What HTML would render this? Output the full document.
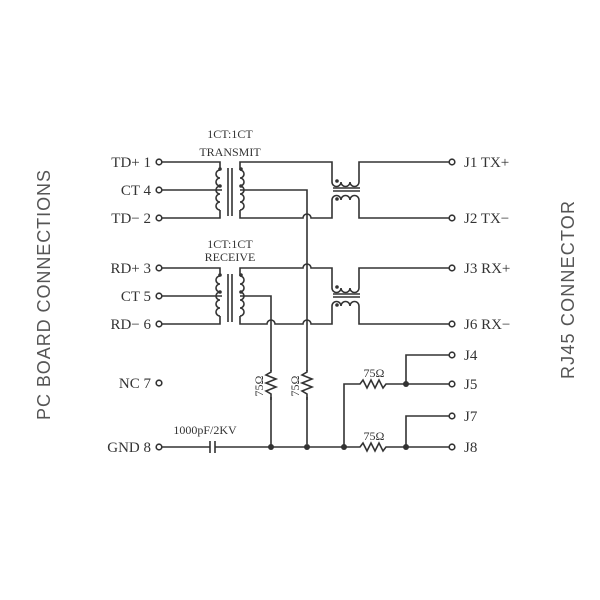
<!DOCTYPE html>
<html><head><style>
html,body{margin:0;padding:0;background:#fff}
svg{display:block}
text{font-family:"Liberation Serif",serif;fill:#333}
</style></head><body>
<svg width="600" height="600" viewBox="0 0 600 600" xmlns="http://www.w3.org/2000/svg">
<g stroke="#333" stroke-width="1.6" fill="none">
<g fill="#fff">
<circle cx="159" cy="162" r="2.8"/><circle cx="159" cy="190" r="2.8"/><circle cx="159" cy="218" r="2.8"/>
<circle cx="159" cy="268" r="2.8"/><circle cx="159" cy="296" r="2.8"/><circle cx="159" cy="324" r="2.8"/>
<circle cx="159" cy="383" r="2.8"/><circle cx="159" cy="447" r="2.8"/>
<circle cx="452" cy="162" r="2.8"/><circle cx="452" cy="218" r="2.8"/><circle cx="452" cy="268" r="2.8"/><circle cx="452" cy="324" r="2.8"/>
<circle cx="452" cy="355" r="2.8"/><circle cx="452" cy="384" r="2.8"/><circle cx="452" cy="416" r="2.8"/><circle cx="452" cy="447" r="2.8"/>
</g>
<path d="M162 162H220V170"/><path d="M162 190H222"/><path d="M162 218H220V210"/>
<path d="M220 170 a4 4 0 0 0 0 8 a4 4 0 0 0 0 8 a4 4 0 0 0 0 8 a4 4 0 0 0 0 8 a4 4 0 0 0 0 8"/>
<path d="M228 168V216M232 168V216"/>
<path d="M240 170 a4 4 0 0 1 0 8 a4 4 0 0 1 0 8 a4 4 0 0 1 0 8 a4 4 0 0 1 0 8 a4 4 0 0 1 0 8"/>
<path d="M240 170V162H332V182"/><path d="M240 210V218H303a4 4 0 0 1 8 0H332V200"/>
<path d="M240 190H307V444"/>
<path d="M332 182 a4.5 4.5 0 0 0 9 0 a4.5 4.5 0 0 0 9 0 a4.5 4.5 0 0 0 9 0"/>
<path d="M333 188H360M333 191H360"/>
<path d="M332 200 a4.5 4.5 0 0 1 9 0 a4.5 4.5 0 0 1 9 0 a4.5 4.5 0 0 1 9 0"/>
<path d="M359 182V162H449"/><path d="M359 200V218H449"/>
<path d="M162 268H220V276"/><path d="M162 296H222"/><path d="M162 324H220V316"/>
<path d="M220 276 a4 4 0 0 0 0 8 a4 4 0 0 0 0 8 a4 4 0 0 0 0 8 a4 4 0 0 0 0 8 a4 4 0 0 0 0 8"/>
<path d="M228 274V322M232 274V322"/>
<path d="M240 276 a4 4 0 0 1 0 8 a4 4 0 0 1 0 8 a4 4 0 0 1 0 8 a4 4 0 0 1 0 8 a4 4 0 0 1 0 8"/>
<path d="M240 276V268H303a4 4 0 0 1 8 0H332V288"/>
<path d="M240 316V324H267a4 4 0 0 1 8 0H303a4 4 0 0 1 8 0H332V306"/>
<path d="M240 296H271V447"/>
<path d="M332 288 a4.5 4.5 0 0 0 9 0 a4.5 4.5 0 0 0 9 0 a4.5 4.5 0 0 0 9 0"/>
<path d="M333 294H360M333 297H360"/>
<path d="M332 306 a4.5 4.5 0 0 1 9 0 a4.5 4.5 0 0 1 9 0 a4.5 4.5 0 0 1 9 0"/>
<path d="M359 288V268H449"/><path d="M359 306V324H449"/>
<path d="M162 447H210M215 447H271"/>
<path d="M210 441V453M215 441V453"/>
<path d="M271 447H360l3 -4l4 8l4 -8l4 8l4 -8l4 8l3 -4H449"/>
<path d="M344 447V384H360l3 -4l4 8l4 -8l4 8l4 -8l4 8l3 -4H449"/>
<path d="M406 384V355H449"/><path d="M406 447V416H449"/>
</g>
<rect x="265" y="371" width="12" height="26" fill="#fff"/>
<rect x="301" y="371" width="12" height="26" fill="#fff"/>
<g stroke="#333" stroke-width="1.6" fill="none">
<path d="M271 370V372l-5 3l10 4l-10 4l10 4l-10 4l5 3V400"/>
<path d="M307 370V372l-5 3l10 4l-10 4l10 4l-10 4l5 3V400"/>
</g>
<g fill="#333">
<circle cx="271" cy="447" r="3"/><circle cx="307" cy="447" r="3"/><circle cx="344" cy="447" r="3"/><circle cx="406" cy="447" r="3"/><circle cx="406" cy="384" r="3"/>
<circle cx="220" cy="169" r="1.8"/><circle cx="220" cy="186" r="1.8"/><circle cx="241" cy="169" r="1.8"/><circle cx="241" cy="186" r="1.8"/>
<circle cx="220" cy="275" r="1.8"/><circle cx="220" cy="292" r="1.8"/><circle cx="241" cy="275" r="1.8"/><circle cx="241" cy="292" r="1.8"/>
<circle cx="337" cy="181" r="1.8"/><circle cx="337" cy="199" r="1.8"/><circle cx="337" cy="287" r="1.8"/><circle cx="337" cy="305" r="1.8"/>
</g>
<g font-size="15" text-anchor="end">
<text x="151" y="167">TD+ 1</text><text x="151" y="195">CT 4</text><text x="151" y="223">TD− 2</text>
<text x="151" y="273">RD+ 3</text><text x="151" y="301">CT 5</text><text x="151" y="329">RD− 6</text>
<text x="151" y="388">NC 7</text><text x="151" y="452">GND 8</text>
</g>
<g font-size="15">
<text x="464" y="167">J1 TX+</text><text x="464" y="223">J2 TX−</text><text x="464" y="273">J3 RX+</text><text x="464" y="329">J6 RX−</text>
<text x="464" y="360">J4</text><text x="464" y="389">J5</text><text x="464" y="421">J7</text><text x="464" y="452">J8</text>
</g>
<g font-size="12" text-anchor="middle">
<text x="230" y="138">1CT:1CT</text><text x="230" y="156">TRANSMIT</text>
<text x="230" y="248">1CT:1CT</text><text x="230" y="261">RECEIVE</text>
<text x="205" y="434">1000pF/2KV</text>
<text x="374" y="377">75Ω</text><text x="374" y="440">75Ω</text>
<text transform="translate(263,386) rotate(-90)">75Ω</text>
<text transform="translate(299,386) rotate(-90)">75Ω</text>
</g>
<text transform="translate(50,295) rotate(-90)" font-size="18" text-anchor="middle" textLength="250" style="font-family:'Liberation Sans',sans-serif;fill:#555">PC BOARD CONNECTIONS</text>
<text transform="translate(574,290) rotate(-90)" font-size="18" text-anchor="middle" textLength="178" style="font-family:'Liberation Sans',sans-serif;fill:#555">RJ45 CONNECTOR</text>
</svg>
</body></html>
